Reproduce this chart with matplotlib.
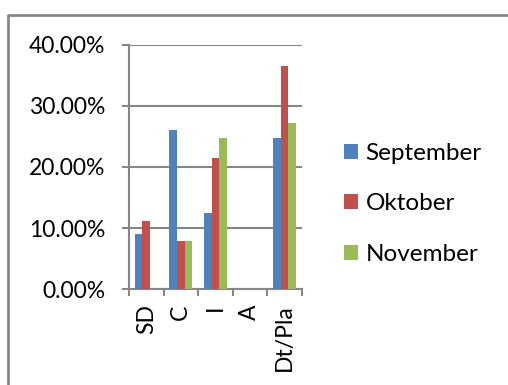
import matplotlib
matplotlib.use("Agg")
import matplotlib.pyplot as plt
from matplotlib.lines import Line2D
from matplotlib.ticker import FuncFormatter, FixedLocator
import numpy as np

categories = ["SD", "C", "I", "A", "Dt/Pla"]
series_names = ["September", "Oktober", "November"]
september = [9.1, 26.1, 12.4, 0.0, 24.8]
oktober = [11.2, 7.8, 21.5, 0.0, 36.5]
november = [0.0, 7.8, 24.8, 0.0, 27.2]
colors = ["#4F81BD", "#C0504D", "#9BBB59"]

plt.rcParams["font.family"] = ["Lato", "DejaVu Sans"]

fig = plt.figure(figsize=(5.08, 3.85), dpi=100)
ax = fig.add_axes([0.254, 0.249, 0.340, 0.635])

grey = "#868686"
x = np.arange(len(categories))
w = 1 / 4.5
for i, (vals, c, name) in enumerate(zip([september, oktober, november], colors, series_names)):
    ax.bar(x + (i - 1) * w, vals, width=w, color=c, label=name, zorder=3)

ax.set_xlim(-0.5, len(categories) - 0.5)
ax.set_ylim(0, 40)
ax.set_yticks([0, 10, 20, 30, 40])
ax.yaxis.set_major_formatter(FuncFormatter(lambda v, p: f"{v:.2f}%"))
ax.grid(axis="y", color=grey, linewidth=1.5, zorder=0)
ax.set_axisbelow(True)

ax.set_xticks(x)
ax.set_xticklabels(categories, rotation=90, fontsize=16.5)
ax.xaxis.set_minor_locator(FixedLocator(np.arange(-0.5, len(categories), 1.0)))
ax.tick_params(axis="x", which="major", length=0, pad=11)
ax.tick_params(axis="x", which="minor", length=5, width=1.5, color=grey, direction="out")
ax.tick_params(axis="y", which="major", length=5, width=1.5, color=grey, labelsize=16.5, pad=12)

for s in ["top", "right"]:
    ax.spines[s].set_visible(False)
for s in ["left", "bottom"]:
    ax.spines[s].set_color(grey)
    ax.spines[s].set_linewidth(1.5)

leg = fig.legend(loc="center left", bbox_to_anchor=(344 / 508, 1 - 204 / 385), frameon=False,
                 fontsize=17.5, handlelength=0.58, handleheight=0.58,
                 handletextpad=0.3, labelspacing=1.2, borderpad=0, borderaxespad=0)

# outer chart frame
fig.add_artist(Line2D([7.5 / 508, 7.5 / 508, 1.0], [0.0, 1 - 15 / 385, 1 - 15 / 385],
                      transform=fig.transFigure, color=grey, linewidth=2))

fig.savefig("out.png", dpi=100)
